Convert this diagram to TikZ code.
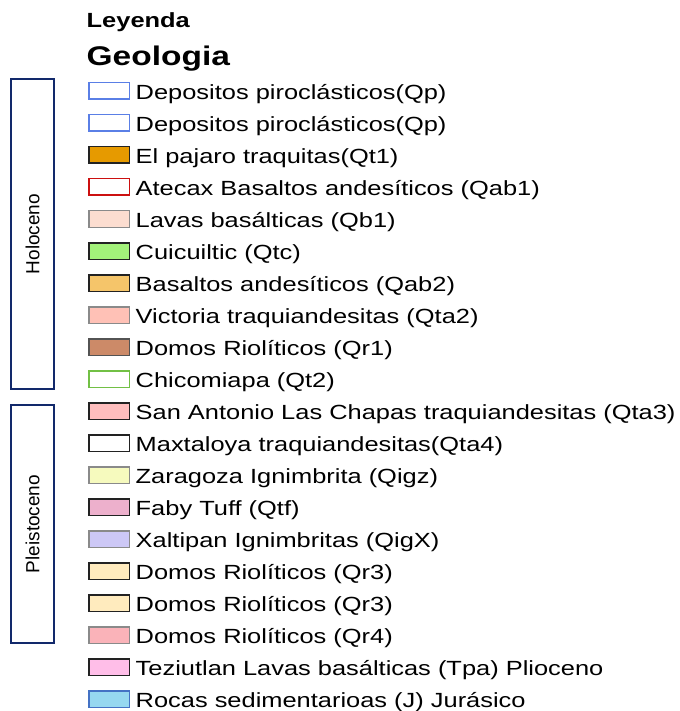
\documentclass[tikz,border=0pt]{standalone}
\usepackage{fontspec}
\setmainfont{Liberation Sans}
\newfontfamily\wideFont{Liberation Sans}[FakeStretch=1.24]
\usetikzlibrary{positioning}

\definecolor{eraBlue}{HTML}{12296B}
\definecolor{qpBlue}{HTML}{5A7FE6}
\definecolor{qtOrange}{HTML}{E69A00}
\definecolor{qabRed}{HTML}{CC1010}
\definecolor{qbPink}{HTML}{FCDDD0}
\definecolor{qtcGreen}{HTML}{A3F27A}
\definecolor{qabYellow}{HTML}{F5C56A}
\definecolor{qtaSalmon}{HTML}{FFC1B6}
\definecolor{qrBrown}{HTML}{CC8A68}
\definecolor{qtGreen}{HTML}{72C045}
\definecolor{qtaRose}{HTML}{FFBEBE}
\definecolor{qigzCream}{HTML}{F6FABE}
\definecolor{qtfMauve}{HTML}{EDB0CC}
\definecolor{qigxLilac}{HTML}{CDC8F6}
\definecolor{qrBeige}{HTML}{FFEBBE}
\definecolor{qrPink}{HTML}{FAB3B9}
\definecolor{tpaPink}{HTML}{FFBEE8}
\definecolor{jSky}{HTML}{96D8F0}
\definecolor{jBlue}{HTML}{4472C4}
\definecolor{softGray}{HTML}{8A8A8A}
\definecolor{darkEdge}{HTML}{222222}

\begin{document}
\begin{tikzpicture}[x=1pt, y=-1pt, node distance=32pt]

        % estilos
        \tikzstyle{swatch} = [rectangle, minimum width=40.5pt, minimum height=16.5pt, inner sep=0pt, line width=1.5pt, draw=darkEdge, fill=white]
        \tikzstyle{entry} = [anchor=west, inner sep=0pt, text height=16.5pt, text depth=0pt, font=\wideFont\fontsize{20.5}{22}\selectfont]
        \tikzstyle{heading} = [anchor=base west, inner sep=0pt]
        \tikzstyle{era} = [rectangle, rotate=90, minimum width=310pt, minimum height=43pt, line width=2pt, draw=eraBlue, font=\fontsize{19}{22}\selectfont]

        \useasboundingbox (0,0) rectangle (679,711);

        % titulos
        \node (leyenda) [heading, font=\wideFont\bfseries\fontsize{20.5}{22}\selectfont] at (86.5,28) {Leyenda};
        \node (geologia) [heading, font=\wideFont\bfseries\fontsize{27}{30}\selectfont] at (86.5,66) {Geologia};

        % periodos
        \node (holoceno) [era] at (32.5,234) {Holoceno};
        \node (pleistoceno) [era, minimum width=238pt] at (32.5,524) {Pleistoceno};

        % cuadros de color
        \node (qp1) [swatch, draw=qpBlue] at (109,91) {};
        \node (qp2) [swatch, draw=qpBlue, below of=qp1] {};
        \node (qt1) [swatch, fill=qtOrange, below of=qp2] {};
        \node (qab1) [swatch, draw=qabRed, below of=qt1] {};
        \node (qb1) [swatch, draw=softGray, fill=qbPink, below of=qab1] {};
        \node (qtc) [swatch, fill=qtcGreen, below of=qb1] {};
        \node (qab2) [swatch, fill=qabYellow, below of=qtc] {};
        \node (qta2) [swatch, draw=softGray, fill=qtaSalmon, below of=qab2] {};
        \node (qr1) [swatch, draw=softGray!60!black, fill=qrBrown, below of=qta2] {};
        \node (qt2) [swatch, draw=qtGreen, below of=qr1] {};
        \node (qta3) [swatch, fill=qtaRose, below of=qt2] {};
        \node (qta4) [swatch, below of=qta3] {};
        \node (qigz) [swatch, draw=softGray, fill=qigzCream, below of=qta4] {};
        \node (qtf) [swatch, fill=qtfMauve, below of=qigz] {};
        \node (qigx) [swatch, draw=softGray, fill=qigxLilac, below of=qtf] {};
        \node (qr3a) [swatch, fill=qrBeige, below of=qigx] {};
        \node (qr3b) [swatch, fill=qrBeige, below of=qr3a] {};
        \node (qr4) [swatch, draw=softGray, fill=qrPink, below of=qr3b] {};
        \node (tpa) [swatch, fill=tpaPink, below of=qr4] {};
        \node (jur) [swatch, draw=jBlue, fill=jSky, below of=tpa] {};

        % textos
        \node (lqp1) [entry, right=5.5pt of qp1] {Depositos piroclásticos(Qp)};
        \node (lqp2) [entry, right=5.5pt of qp2] {Depositos piroclásticos(Qp)};
        \node (lqt1) [entry, right=5.5pt of qt1] {El pajaro traquitas(Qt1)};
        \node (lqab1) [entry, right=5.5pt of qab1] {Atecax Basaltos andesíticos (Qab1)};
        \node (lqb1) [entry, right=5.5pt of qb1] {Lavas basálticas (Qb1)};
        \node (lqtc) [entry, right=5.5pt of qtc] {Cuicuiltic (Qtc)};
        \node (lqab2) [entry, right=5.5pt of qab2] {Basaltos andesíticos (Qab2)};
        \node (lqta2) [entry, right=5.5pt of qta2] {Victoria traquiandesitas (Qta2)};
        \node (lqr1) [entry, right=5.5pt of qr1] {Domos Riolíticos (Qr1)};
        \node (lqt2) [entry, right=5.5pt of qt2] {Chicomiapa (Qt2)};
        \node (lqta3) [entry, right=5.5pt of qta3] {San Antonio Las Chapas traquiandesitas (Qta3)};
        \node (lqta4) [entry, right=5.5pt of qta4] {Maxtaloya traquiandesitas(Qta4)};
        \node (lqigz) [entry, right=5.5pt of qigz] {Zaragoza Ignimbrita (Qigz)};
        \node (lqtf) [entry, right=5.5pt of qtf] {Faby Tuff (Qtf)};
        \node (lqigx) [entry, right=5.5pt of qigx] {Xaltipan Ignimbritas (QigX)};
        \node (lqr3a) [entry, right=5.5pt of qr3a] {Domos Riolíticos (Qr3)};
        \node (lqr3b) [entry, right=5.5pt of qr3b] {Domos Riolíticos (Qr3)};
        \node (lqr4) [entry, right=5.5pt of qr4] {Domos Riolíticos (Qr4)};
        \node (ltpa) [entry, right=5.5pt of tpa] {Teziutlan Lavas basálticas (Tpa) Plioceno};
        \node (ljur) [entry, right=5.5pt of jur] {Rocas sedimentarioas (J) Jurásico};

    \end{tikzpicture}
\end{document}
